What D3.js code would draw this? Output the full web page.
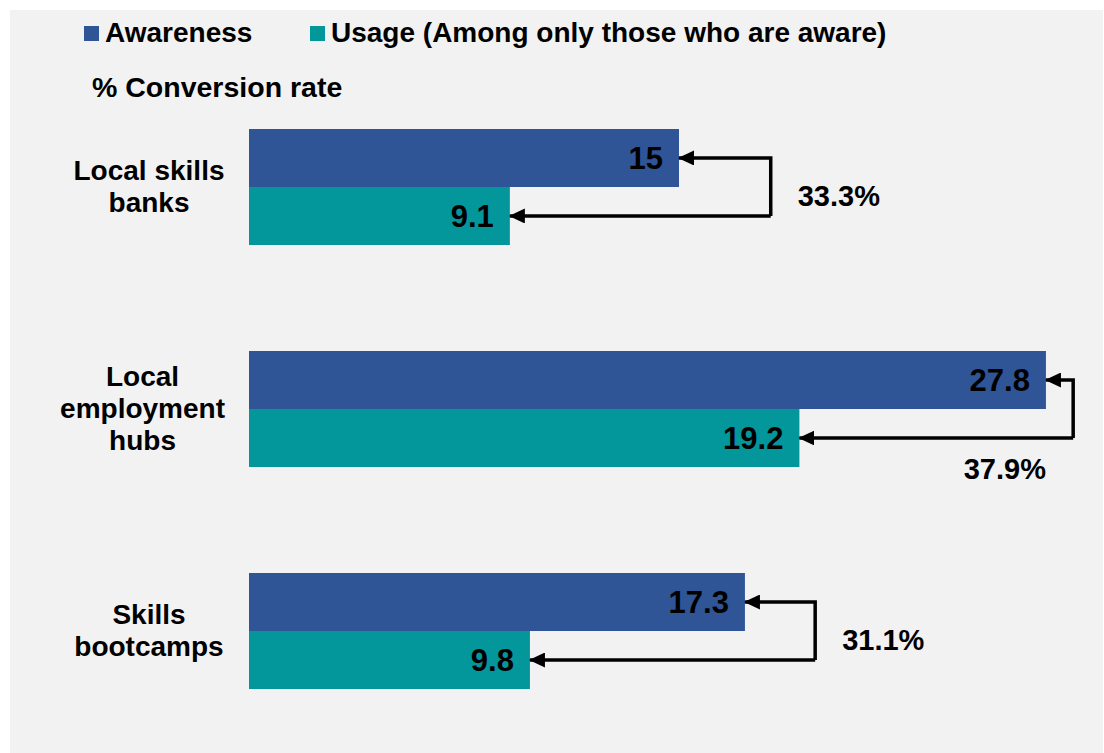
<!DOCTYPE html>
<html>
<head>
<meta charset="utf-8">
<script src="https://cdn.jsdelivr.net/npm/d3@7"></script>
<style>
  html, body { margin: 0; padding: 0; background: #ffffff; }
  svg { display: block; font-family: "Liberation Sans", Arial, sans-serif; font-weight: bold; }
</style>
</head>
<body>
<svg id="chart" width="1104" height="753"></svg>
<script>
// Categories (line-broken labels) and the two series
const categories = ["Local skills banks", "Local employment hubs", "Skills bootcamps"];
const categoryLines = [["Local skills", "banks"], ["Local", "employment", "hubs"], ["Skills", "bootcamps"]];
const seriesNames = ["Awareness", "Usage (Among only those who are aware)"];
const awareness = [15, 27.8, 17.3];
const usage = [9.1, 19.2, 9.8];
const conversion = ["33.3%", "37.9%", "31.1%"];
// Where each connector bracket turns, in value units
const bracketAt = [18.2, 28.75, 19.75];

const colors = ["#2f5597", "#03979c"];
const W = 1104, H = 753;
const svg = d3.select("#chart");

// Panel background
svg.append("rect").attr("x", 10).attr("y", 10).attr("width", W - 11).attr("height", H - 10)
  .attr("fill", "#f2f2f2");

const x = d3.scaleLinear().domain([0, 30]).range([249, 1109]);
const y = d3.scaleBand().domain(categories).range([129, 689]).paddingInner(0.4775).paddingOuter(0);
const ySub = d3.scaleBand().domain([0, 1]).range([0, y.bandwidth()]);

// Arrowhead marker
svg.append("defs").append("marker")
  .attr("id", "arrow").attr("viewBox", "0 0 16 15")
  .attr("refX", 15).attr("refY", 7.5)
  .attr("markerWidth", 16 / 3.5).attr("markerHeight", 15 / 3.5)
  .attr("markerUnits", "strokeWidth")
  .attr("orient", "auto")
  .append("path").attr("d", "M0,0 L16,7.5 L0,15 Z").attr("fill", "#000");

const rows = categories.map((c, i) => ({ c, i, vals: [awareness[i], usage[i]] }));

const g = svg.append("g");
const groups = g.selectAll("g.cat").data(rows).join("g").attr("class", "cat")
  .attr("transform", d => `translate(0,${y(d.c)})`);

// Bars
groups.selectAll("rect").data(d => d.vals.map((v, k) => ({ v, k }))).join("rect")
  .attr("x", x(0)).attr("y", d => ySub(d.k))
  .attr("width", d => x(d.v) - x(0)).attr("height", ySub.bandwidth())
  .attr("fill", d => colors[d.k]);

// Value labels inside the bar ends
groups.selectAll("text.val").data(d => d.vals.map((v, k) => ({ v, k }))).join("text")
  .attr("class", "val")
  .attr("x", d => x(d.v) - 16)
  .attr("y", d => ySub(d.k) + ySub.bandwidth() / 2 + 11)
  .attr("text-anchor", "end").attr("font-size", 31).attr("fill", "#000")
  .text(d => d.v);

// Connector brackets from usage back to awareness
groups.each(function (d) {
  const sel = d3.select(this);
  const yA = ySub(0) + ySub.bandwidth() / 2;
  const yU = ySub(1) + ySub.bandwidth() / 2;
  const xb = x(bracketAt[d.i]);
  sel.append("path")
    .attr("d", `M${xb},${yU} L${xb},${yA} L${x(d.vals[0])},${yA}`)
    .attr("fill", "none").attr("stroke", "#000").attr("stroke-width", 3.5)
    .attr("marker-end", "url(#arrow)");
  sel.append("path")
    .attr("d", `M${xb},${yU} L${x(d.vals[1])},${yU}`)
    .attr("fill", "none").attr("stroke", "#000").attr("stroke-width", 3.5)
    .attr("marker-end", "url(#arrow)");
  // Conversion label: beside the bracket, or below it near the edge
  const t = sel.append("text").attr("font-size", 29).attr("fill", "#000").text(conversion[d.i]);
  if (xb + 110 > W) {
    t.attr("x", x(d.vals[0])).attr("y", y.bandwidth() + 12).attr("text-anchor", "end");
  } else {
    t.attr("x", xb + 27).attr("y", y.bandwidth() / 2 + 19).attr("text-anchor", "start");
  }
});

// Category labels, centred in the left margin but kept clear of the bars
groups.each(function (d) {
  const lines = categoryLines[d.i];
  const lh = 32;
  const t = d3.select(this).append("text")
    .attr("text-anchor", "middle").attr("font-size", 28).attr("fill", "#000");
  const spans = lines.map((ln, j) => t.append("tspan")
    .attr("y", y.bandwidth() / 2 - (lines.length - 1) / 2 * lh + 9 + j * lh)
    .text(ln));
  const widest = d3.max(spans, s => s.node().getComputedTextLength());
  const cx = Math.min(149, x(0) - 24 - widest / 2);
  spans.forEach(s => s.attr("x", cx));
});

// Legend
const legendX = [84, 310];
const lg = svg.append("g").selectAll("g").data(seriesNames).join("g")
  .attr("transform", (d, i) => `translate(${legendX[i]},26)`);
lg.append("rect").attr("width", 15).attr("height", 15).attr("fill", (d, i) => colors[i]);
lg.append("text").attr("x", 21).attr("y", 16).attr("font-size", 28).attr("fill", "#000").text(d => d);

// Subtitle
svg.append("text").attr("x", 92).attr("y", 97).attr("font-size", 28.5).attr("fill", "#000")
  .text("% Conversion rate");
</script>
</body>
</html>
